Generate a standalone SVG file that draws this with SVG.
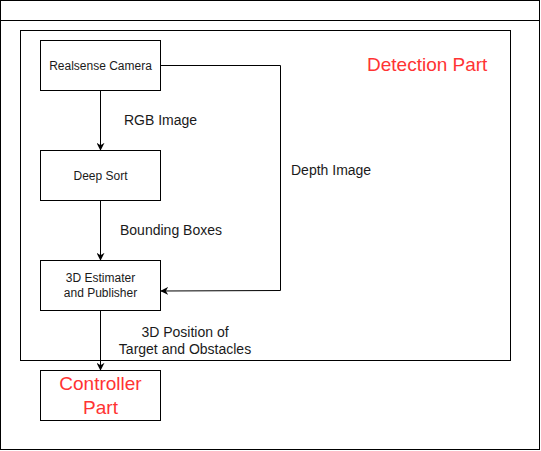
<svg xmlns="http://www.w3.org/2000/svg" width="541" height="451" viewBox="0 0 541 451">
<defs>
<style>
.box{fill:#fff;stroke:#000;stroke-width:1}
.frame{fill:none;stroke:#000;stroke-width:1}
.edge{fill:none;stroke:#000;stroke-width:1}
.t{font-family:"Liberation Sans",Arial,sans-serif;font-size:12px;fill:#1a1a1a;text-anchor:middle;dominant-baseline:central}
.lbl{font-family:"Liberation Sans",Arial,sans-serif;font-size:14px;fill:#1a1a1a;dominant-baseline:central}
.red{font-family:"Liberation Sans",Arial,sans-serif;font-size:19px;fill:#ff3333;dominant-baseline:central}
</style>
<marker id="arr" viewBox="0 0 10 10" refX="9" refY="5" markerWidth="8" markerHeight="8" markerUnits="userSpaceOnUse" orient="auto">
<path d="M0,0 L10,5 L0,10 L3,5 Z" fill="#000"/>
</marker>
</defs>
<rect width="541" height="451" fill="#fff"/>
<g id="outer">
<rect class="frame" x="0.5" y="0.5" width="539" height="449"/>
<line class="frame" x1="0.5" y1="20.5" x2="539.5" y2="20.5"/>
</g>
<g id="detection-part">
<rect class="frame" x="20.5" y="30.5" width="490" height="330"/>
<text class="red" x="367" y="64">Detection Part</text>
</g>
<g id="connectors">
<line class="edge" x1="100.5" y1="90" x2="100.5" y2="150" marker-end="url(#arr)"/>
<line class="edge" x1="100.5" y1="200" x2="100.5" y2="260" marker-end="url(#arr)"/>
<line class="edge" x1="100.5" y1="310" x2="100.5" y2="370" marker-end="url(#arr)"/>
<polyline class="edge" points="160,65.5 280.5,65.5 280.5,290.5 161,291" marker-end="url(#arr)"/>
<text class="lbl" x="124" y="120">RGB Image</text>
<text class="lbl" x="120" y="230">Bounding Boxes</text>
<text class="lbl" x="291" y="170">Depth Image</text>
<text class="lbl" x="185" y="332" text-anchor="middle">3D Position of</text>
<text class="lbl" x="185" y="349" text-anchor="middle">Target and Obstacles</text>
</g>
<g id="realsense-camera">
<rect class="box" x="40.5" y="40.5" width="120" height="50"/>
<text class="t" x="100.5" y="65.5">Realsense Camera</text>
</g>
<g id="deep-sort">
<rect class="box" x="40.5" y="150.5" width="120" height="50"/>
<text class="t" x="100.5" y="175.5">Deep Sort</text>
</g>
<g id="estimater">
<rect class="box" x="40.5" y="260.5" width="120" height="50"/>
<text class="t" x="100.5" y="278">3D Estimater</text>
<text class="t" x="100.5" y="292.5">and Publisher</text>
</g>
<g id="controller-part">
<rect class="box" x="40.5" y="370.5" width="120" height="50"/>
<text class="red" x="100.5" y="383" text-anchor="middle">Controller</text>
<text class="red" x="100.5" y="407" text-anchor="middle">Part</text>
</g>
</svg>
